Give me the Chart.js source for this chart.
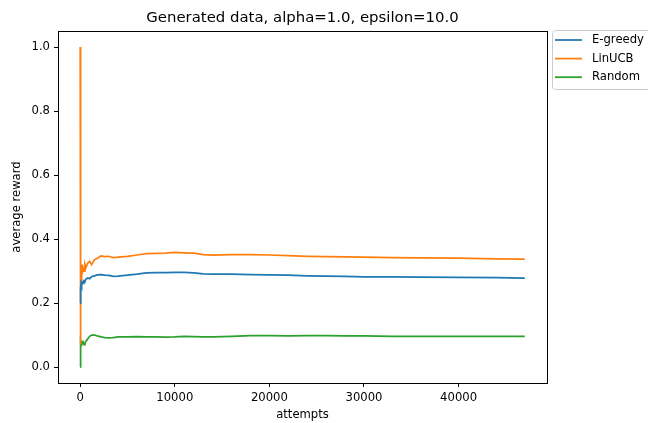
<!DOCTYPE html>
<html>
<head>
<meta charset="utf-8">
<script src="https://cdn.jsdelivr.net/npm/chart.js@4"></script>
<style>
  body { margin: 0; background: #fff; }
  #wrap { width: 648px; height: 423px; }
</style>
</head>
<body>
<div id="wrap"><canvas id="rewardChart" width="648" height="423"></canvas></div>
<script>
// Values
const attempts = [1, 20, 40, 60, 100, 150, 200, 300, 400, 500, 600, 800, 1000, 1200, 1500, 1800, 2200, 2600, 3000, 3500, 4000, 5000, 6000, 7000, 8000, 9000, 10000, 11000, 12000, 13000, 14000, 16000, 18000, 20000, 22000, 24000, 26000, 28000, 30000, 33000, 36000, 40000, 44000, 47000];

const egreedy = [0.20, 0.21, 0.25, 0.23, 0.26, 0.255, 0.265, 0.262, 0.27, 0.268, 0.274, 0.278, 0.276, 0.282, 0.285, 0.288, 0.289, 0.287, 0.286, 0.283, 0.284, 0.287, 0.29, 0.294, 0.295, 0.295, 0.296, 0.296, 0.294, 0.291, 0.29, 0.29, 0.289, 0.288, 0.287, 0.285, 0.284, 0.283, 0.282, 0.282, 0.281, 0.28, 0.279, 0.278];

const linucb = [1.0, 0.07, 0.2, 0.3, 0.27, 0.32, 0.29, 0.31, 0.30, 0.32, 0.31, 0.325, 0.33, 0.32, 0.335, 0.34, 0.347, 0.345, 0.346, 0.342, 0.343, 0.346, 0.35, 0.354, 0.355, 0.356, 0.358, 0.357, 0.356, 0.351, 0.35, 0.351, 0.351, 0.35, 0.348, 0.346, 0.345, 0.344, 0.343, 0.342, 0.341, 0.34, 0.338, 0.337];

const random = [0.0, 0.07, 0.05, 0.08, 0.075, 0.082, 0.072, 0.078, 0.07, 0.074, 0.08, 0.088, 0.096, 0.1, 0.1, 0.097, 0.094, 0.092, 0.091, 0.092, 0.094, 0.094, 0.095, 0.094, 0.094, 0.093, 0.094, 0.096, 0.095, 0.094, 0.094, 0.096, 0.098, 0.098, 0.097, 0.098, 0.098, 0.097, 0.097, 0.096, 0.096, 0.096, 0.096, 0.096];

const xTicks = [0, 10000, 20000, 30000, 40000];
const yTicks = [0.0, 0.2, 0.4, 0.6, 0.8, 1.0];

const chartTitle = 'Generated data, alpha=1.0, epsilon=10.0';

const FONT = 'DejaVu Sans';

function toPoints(ys) {
    return attempts.map((x, i) => ({ x: x, y: ys[i] }));
}

// Box around the axes, title and the outside legend
const mplDecor = {
    id: 'mplDecor',
    afterDraw(chart) {
        const ctx = chart.ctx;
        const a = chart.chartArea;
        ctx.save();

        ctx.strokeStyle = '#000';
        ctx.lineWidth = 1;
        ctx.strokeRect(Math.round(a.left) + 0.5, Math.round(a.top) + 0.5,
            Math.round(a.right - a.left), Math.round(a.bottom - a.top));

        ctx.fillStyle = '#000';
        ctx.font = '14.9px "' + FONT + '"';
        ctx.textAlign = 'center';
        ctx.textBaseline = 'middle';
        ctx.fillText(chartTitle, (a.left + a.right) / 2, 18);

        // legend
        const lx = a.right + 5, ly = a.top - 1;
        ctx.beginPath();
        ctx.roundRect(lx + 0.5, ly + 0.5, 130, 59, 3);
        ctx.fillStyle = 'rgba(255,255,255,0.8)';
        ctx.fill();
        ctx.strokeStyle = '#cccccc';
        ctx.stroke();

        ctx.font = '11.6px "' + FONT + '"';
        ctx.textAlign = 'left';
        chart.data.datasets.forEach((ds, i) => {
            const y = ly + 10 + i * 18.6;
            ctx.strokeStyle = ds.borderColor;
            ctx.lineWidth = 1.75;
            ctx.beginPath();
            ctx.moveTo(lx + 3, y);
            ctx.lineTo(lx + 30, y);
            ctx.stroke();
            ctx.fillStyle = '#000';
            ctx.fillText(ds.label, lx + 40, y);
        });
        ctx.restore();
    }
};

const ctx = document.getElementById('rewardChart').getContext('2d');
new Chart(ctx, {
    type: 'line',
    data: {
        datasets: [
            { label: 'E-greedy', data: toPoints(egreedy), borderColor: '#1f77b4' },
            { label: 'LinUCB', data: toPoints(linucb), borderColor: '#ff7f0e' },
            { label: 'Random', data: toPoints(random), borderColor: '#2ca02c' }
        ]
    },
    options: {
        responsive: false,
        animation: false,
        datasets: {
            line: { borderWidth: 1.75, pointRadius: 0, tension: 0, fill: false }
        },
        layout: { padding: { top: 31, right: 101, left: 0, bottom: 0 } },
        plugins: {
            legend: { display: false },
            title: { display: false },
            tooltip: { enabled: false }
        },
        scales: {
            x: {
                type: 'linear',
                min: -2350,
                max: 49350,
                afterBuildTicks: (scale) => { scale.ticks = xTicks.map(v => ({ value: v })); },
                afterFit: (scale) => { scale.height = 40; },
                grid: { drawOnChartArea: false, tickLength: 4, color: '#000' },
                border: { display: true, color: '#000', width: 1 },
                ticks: {
                    padding: 4,
                    color: '#000',
                    maxRotation: 0,
                    font: { family: FONT, size: 11.6 },
                    callback: (v) => String(v)
                },
                title: {
                    display: true,
                    text: 'attempts',
                    color: '#000',
                    padding: { top: 0, bottom: 1 },
                    font: { family: FONT, size: 11.6 }
                }
            },
            y: {
                min: -0.05,
                max: 1.05,
                afterBuildTicks: (scale) => { scale.ticks = yTicks.map(v => ({ value: v })); },
                afterFit: (scale) => { scale.width = 58; },
                grid: { drawOnChartArea: false, tickLength: 4, color: '#000' },
                border: { display: true, color: '#000', width: 1 },
                ticks: {
                    padding: 4,
                    color: '#000',
                    font: { family: FONT, size: 11.6 },
                    callback: (v) => Number(v).toFixed(1)
                },
                title: {
                    display: true,
                    text: 'average reward',
                    color: '#000',
                    padding: { top: 10, bottom: 0 },
                    font: { family: FONT, size: 11.6 }
                }
            }
        }
    },
    plugins: [mplDecor]
});
</script>
</body>
</html>
